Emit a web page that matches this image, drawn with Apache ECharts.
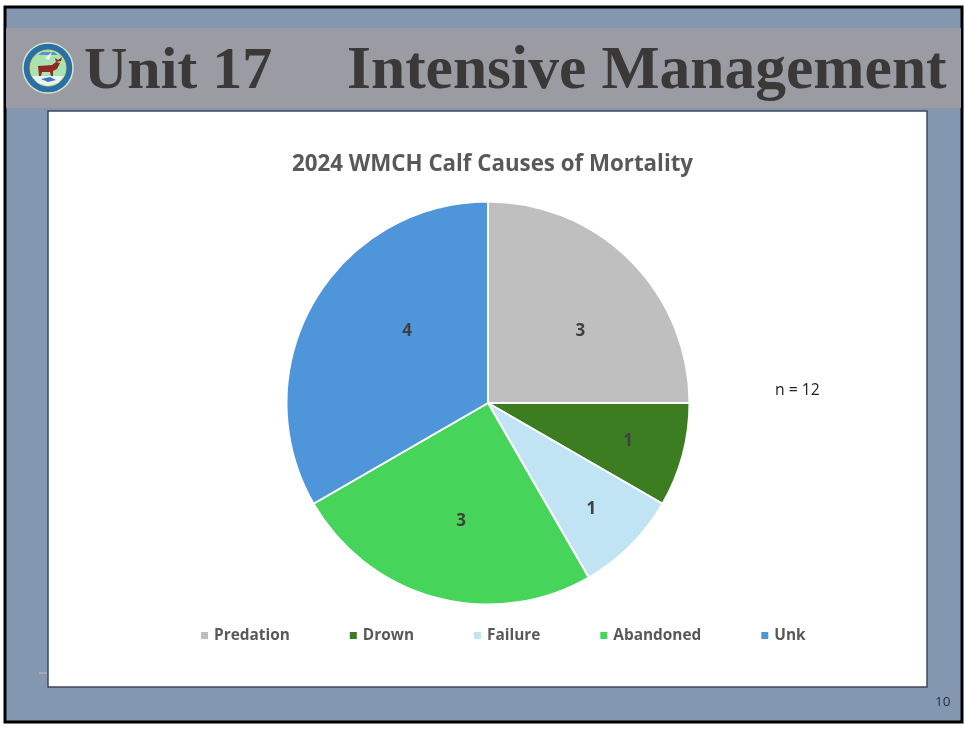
<!DOCTYPE html>
<html><head><meta charset="utf-8">
<style>html,body{margin:0;padding:0;background:#fff}#c{width:965px;height:730px}</style>
<script src="https://cdn.jsdelivr.net/npm/echarts@6/dist/echarts.min.js"></script>
</head><body><div id="c"></div>
<script>
const categories = ['Predation','Drown','Failure','Abandoned','Unk'];
const values = [3,1,1,3,4];
const colors = ['#BFBFBF','#3C7D22','#C1E4F5','#47D45A','#4E95D9'];
const chartTitle = '2024 WMCH Calf Causes of Mortality';
const labelShiftX = [19,40,30,0,9];
const labelShiftY = [2,11,33,18,-20];
const FONT = '"Open Sans",sans-serif';
const chart = echarts.init(document.getElementById('c'),null,{renderer:'canvas'});
function T(x,y,text,font,fill,align){return {type:'text',x,y,silent:true,style:{text,font,fill,textAlign:align||'left',textVerticalAlign:'middle'}};}
function R(x,y,w,h,fill,stroke,lw){return {type:'rect',shape:{x,y,width:w,height:h},silent:true,style:{fill,stroke,lineWidth:lw||0}};}
function C(cx,cy,r,fill,stroke,lw){return {type:'circle',shape:{cx,cy,r},silent:true,style:{fill,stroke,lineWidth:lw||0}};}
function P(points,fill){return {type:'polygon',shape:{points},silent:true,style:{fill}};}
chart.setOption({
  animation:false,
  backgroundColor:'#fff',
  title:{text:chartTitle,left:487.5,top:149,textAlign:'center',
    textStyle:{fontFamily:FONT,fontWeight:'bold',fontSize:22.3,color:'#595959'}},
  legend:{left:199,top:628,orient:'horizontal',itemWidth:9,itemHeight:9,itemGap:58,icon:'rect',padding:0,
    data:categories,
    textStyle:{fontFamily:FONT,fontWeight:'bold',fontSize:15.4,color:'#595959'}},
  graphic:{elements:[
    Object.assign(R(5,7,957,715,'#8497B0','#000',3),{z:-10,zlevel:0}),
    Object.assign(R(6,28,955,80,'#9A9BA3'),{z:-9}),
    Object.assign(R(48,111,879,576,'#fff','#404854',1.5),{z:-8}),
    Object.assign(R(39,672,8,2,'#A5A8AE'),{z:-8}),
    T(84,72,'Unit 17','bold 60px "Liberation Serif"','#3B3838'),
    T(347,72,'Intensive Management','bold 61.5px "Liberation Serif"','#3B3838'),
    T(775,391,'n = 12','15.7px '+FONT,'#222'),
    T(935,702,'10','13.5px '+FONT,'#2b2f36'),
    C(48,68,25,'#2A6FA8','#CFE6C8',1.5),
    C(48,68,18,'#A9E3B4','#D9D65A',1),
    P([[38,55],[58,55],[54,52],[42,52]],'#5C93C8'),
    P([[45,58],[52,52],[49,60]],'#F2F6F6'),
    P([[32,76],[64,76],[58,83],[48,86],[38,83]],'#EAF4F6'),
    P([[41,79],[50,77],[56,80],[48,82]],'#3C78B4'),
    P([[38,66],[52,65],[56,62],[60,63],[57,69],[53,71],[53,76],[51,76],[50,72],[42,72],[41,76],[39,76]],'#8F2A22'),
    P([[56,62],[55,58],[58,60],[62,57],[61,61]],'#8F2A22')
  ]},
  series:[{
    type:'pie',
    center:[488,403],
    radius:[0,201.5],
    startAngle:90,
    clockwise:true,
    data:categories.map((n,i)=>({name:n,value:values[i],itemStyle:{color:colors[i]}})),
    itemStyle:{borderColor:'#fff',borderWidth:2},
    label:{show:true,position:'inner',formatter:'{c}',fontFamily:FONT,fontWeight:'bold',fontSize:17,color:'#404040'},
    labelLine:{show:false},
    labelLayout:p=>({dx:labelShiftX[p.dataIndex],dy:labelShiftY[p.dataIndex]}),
    emphasis:{disabled:true}
  }]
});
</script></body></html>
